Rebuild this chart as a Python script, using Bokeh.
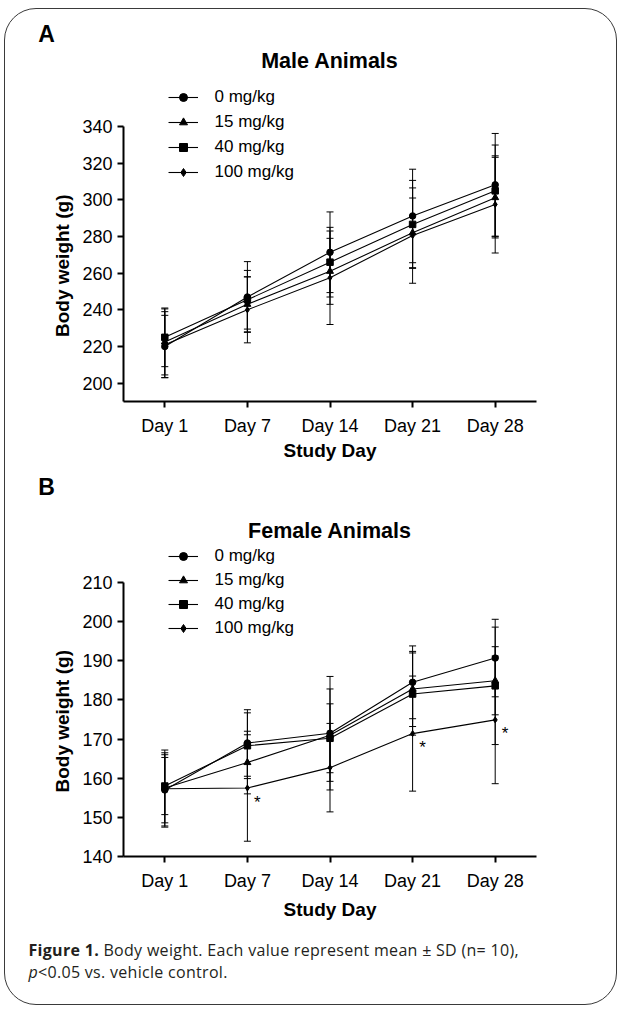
from bokeh.plotting import figure
from bokeh.models import (ColumnDataSource, Whisker, FixedTicker, Legend, LegendItem,
                          Div, Range1d, TeeHead, Title)
from bokeh.layouts import column
from bokeh.embed import file_html
from bokeh.resources import INLINE
from bokeh.core.properties import value

# ---------------- data ----------------
days = ["Day 1", "Day 7", "Day 14", "Day 21", "Day 28"]
doses = ["0 mg/kg", "15 mg/kg", "40 mg/kg", "100 mg/kg"]

male_mean_0 = [220.0, 247.0, 271.4, 291.2, 308.2]
male_mean_15 = [222.5, 243.0, 261.0, 282.0, 301.2]
male_mean_40 = [225.0, 245.5, 266.0, 286.6, 304.9]
male_mean_100 = [221.0, 240.0, 257.5, 280.5, 297.5]
male_sd_0 = [17.0, 19.3, 22.0, 25.5, 28.0]
male_sd_15 = [18.0, 15.0, 18.0, 19.0, 22.0]
male_sd_40 = [16.0, 16.0, 19.0, 24.0, 25.0]
male_sd_100 = [18.0, 18.0, 25.5, 26.0, 26.5]

female_mean_0 = [157.0, 169.0, 171.5, 184.5, 190.7]
female_mean_15 = [157.5, 164.0, 171.0, 182.8, 184.9]
female_mean_40 = [158.0, 168.3, 170.2, 181.5, 183.6]
female_mean_100 = [157.3, 157.5, 162.7, 171.4, 174.9]
female_sd_0 = [9.5, 8.5, 14.5, 9.3, 9.9]
female_sd_15 = [9.7, 8.0, 11.8, 9.6, 8.7]
female_sd_40 = [7.3, 8.4, 8.8, 10.5, 15.0]
female_sd_100 = [8.7, 13.6, 11.3, 14.7, 16.3]

female_sig_days = ["Day 7", "Day 21", "Day 28"]   # p<0.05, 100 mg/kg

male_y_ticks = [200, 220, 240, 260, 280, 300, 320, 340]
female_y_ticks = [140, 150, 160, 170, 180, 190, 200, 210]

# ---------------- style ----------------
FONT = "Liberation Sans"
MARKERS = ["circle", "triangle", "square", "diamond"]
MSIZE = [6.5, 7, 6.5, 6]
W = 611
STAR_DX = 0.12
STAR_DY = 3.6


def make_header(letter, title, height, letter_pos, title_pos):
    html = (
        f'<div style="position:relative;width:{W}px;height:{height}px;'
        f'font-family:\'{FONT}\';color:black;font-weight:bold;">'
        f'<span style="position:absolute;left:{letter_pos[0]}px;top:{letter_pos[1]}px;'
        f'transform:translate(-50%,-50%);font-size:23px;line-height:1;">{letter}</span>'
        f'<span style="position:absolute;left:{title_pos[0]}px;top:{title_pos[1]}px;'
        f'transform:translate(-50%,-50%);font-size:21.5px;line-height:1;'
        f'white-space:nowrap;">{title}</span></div>'
    )
    return Div(text=html, width=W, height=height, margin=0)


def make_panel(means, sds, y_lo, y_top_tick, y_hi, y_ticks, height, top, bottom,
               legend_bottom, legend_spacing, ylabel_offset, xlabel_standoff,
               stars=None):
    p = figure(width=W, height=height, x_range=Range1d(-0.5, 4.5),
               y_range=Range1d(y_lo, y_hi), output_backend="svg",
               toolbar_location=None, min_border_left=118, min_border_right=80,
               min_border_top=top, min_border_bottom=bottom)
    p.outline_line_color = None
    p.xgrid.visible = False
    p.ygrid.visible = False
    p.background_fill_color = None
    p.border_fill_color = None

    x = list(range(len(days)))
    items = []
    for i, d in enumerate(doses):
        m = means[i]
        s = sds[i]
        src = ColumnDataSource(dict(x=x, y=m,
                                    upper=[a + b for a, b in zip(m, s)],
                                    lower=[a - b for a, b in zip(m, s)]))
        w = Whisker(base="x", upper="upper", lower="lower", source=src,
                    line_color="black", line_width=1,
                    upper_head=TeeHead(size=7, line_color="black", line_width=1),
                    lower_head=TeeHead(size=7, line_color="black", line_width=1))
        p.add_layout(w)
        ln = p.line("x", "y", source=src, line_color="black", line_width=1.1)
        sc = p.scatter("x", "y", source=src, marker=MARKERS[i], size=MSIZE[i],
                       fill_color="black", line_color="black")
        items.append(LegendItem(label=d, renderers=[ln, sc]))

    leg = Legend(items=items, location=(44.5, legend_bottom), orientation="vertical",
                 glyph_width=30, glyph_height=20, label_height=20,
                 spacing=legend_spacing, padding=0, margin=0, label_standoff=17,
                 label_text_font=FONT, label_text_font_size="17px",
                 label_text_color="black", border_line_color=None,
                 background_fill_alpha=0)
    p.add_layout(leg)

    if stars:
        idx = [days.index(dd) for dd in stars]
        sx = [k + STAR_DX for k in idx]
        sy = [means[3][k] - STAR_DY for k in idx]
        p.text(x=sx, y=sy, text=["*"] * len(idx), text_font=value(FONT),
               text_font_size="17px", text_align="center",
               text_baseline="middle", text_color="black")

    for ax in (p.xaxis[0], p.yaxis[0]):
        ax.axis_line_width = 2
        ax.axis_line_color = "black"
        ax.major_tick_line_width = 2
        ax.major_tick_line_color = "black"
        ax.major_tick_out = 6
        ax.major_tick_in = 0
        ax.minor_tick_line_color = None
        ax.major_label_text_font = FONT
        ax.major_label_text_font_size = "18px"
        ax.major_label_text_color = "black"
        ax.axis_label_text_font = FONT
        ax.axis_label_text_font_size = "19px"
        ax.axis_label_text_font_style = "bold"
        ax.axis_label_text_color = "black"

    p.xaxis.ticker = FixedTicker(ticks=x)
    p.xaxis.major_label_overrides = {i: d for i, d in enumerate(days)}
    p.xaxis.axis_label = "Study Day"
    p.xaxis.major_label_standoff = 8
    p.xaxis.axis_label_standoff = xlabel_standoff

    p.yaxis.ticker = FixedTicker(ticks=y_ticks)
    p.yaxis.bounds = (y_lo, y_top_tick)
    p.yaxis.major_label_standoff = 5

    # y-axis title, centred on the axis line (not on the taller frame)
    p.add_layout(Title(text="Body weight (g)", align="left", offset=ylabel_offset,
                       standoff=14, text_font=FONT, text_font_size="19px",
                       text_font_style="bold", text_color="black"), "left")
    return p


hA = make_header("A", "Male Animals", 66, (41.5, 24.5), (324.5, 52.5))
pA = make_panel([male_mean_0, male_mean_15, male_mean_40, male_mean_100],
                [male_sd_0, male_sd_15, male_sd_40, male_sd_100],
                190, 340, 190 + 322 * 150 / 275, male_y_ticks,
                height=392, top=4, bottom=66, legend_bottom=219.5, legend_spacing=5,
                ylabel_offset=64.5, xlabel_standoff=1)

hB = make_header("B", "Female Animals", 74, (41.5, 19.5), (324.5, 65))
pB = make_panel([female_mean_0, female_mean_15, female_mean_40, female_mean_100],
                [female_sd_0, female_sd_15, female_sd_40, female_sd_100],
                140, 210, 140 + 311 * 70 / 274, female_y_ticks,
                height=390, top=4, bottom=75, legend_bottom=218.5, legend_spacing=4,
                ylabel_offset=64, xlabel_standoff=5, stars=female_sig_days)

caption = Div(
    text=('<div style="padding:7.5px 0 0 23.5px; font-family:\'Open Sans\'; '
          'font-size:16px; letter-spacing:0.3px; line-height:22px; color:#231f20;">'
          '<b>Figure 1.</b> Body weight. Each value represent mean &plusmn; SD (n= 10),<br>'
          '<i>p</i>&lt;0.05 vs. vehicle control.</div>'),
    width=W, height=73, margin=0)

layout = column(hA, pA, hB, pB, caption,
                styles={"border": "1.5px solid #3a3a3a", "border-radius": "32px",
                        "margin": "8px 0 0 4px"})

open("out.html", "w").write(file_html(layout, INLINE))
